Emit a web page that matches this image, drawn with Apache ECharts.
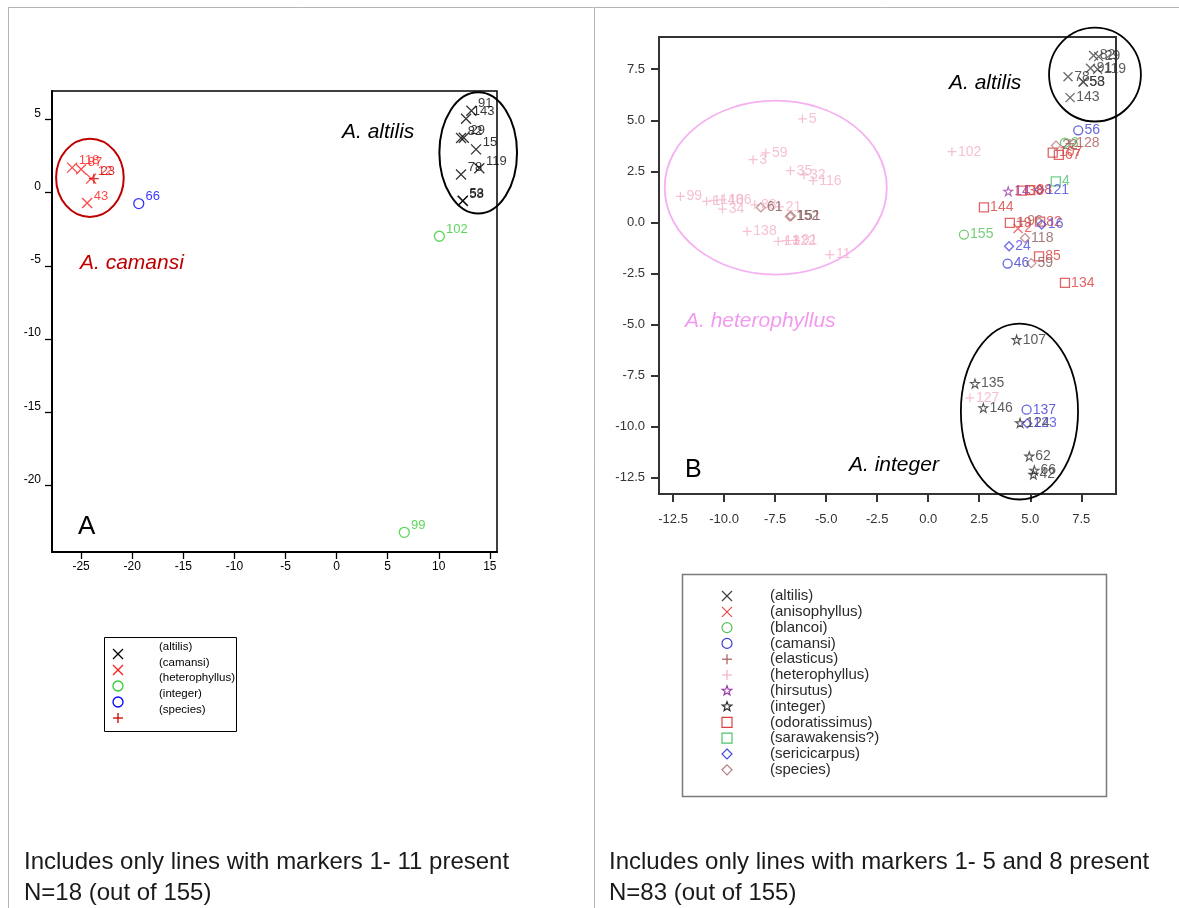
<!DOCTYPE html>
<html>
<head>
<meta charset="utf-8">
<script src="https://cdn.jsdelivr.net/npm/echarts@6/dist/echarts.min.js"></script>
<style>
  html, body { margin: 0; padding: 0; background: #fff; }
  #chart { width: 1179px; height: 908px; }
</style>
</head>
<body>
<div id="chart"></div>
<script>
// ---------- Panel A: markers 1-11 (N=18) ----------
// each point: [axis 1 score, axis 2 score, accession label]
const aAltilis = [[12.67, 5.04, '143'], [13.19, 5.58, '91'], [12.18, 3.72, '82'], [12.45, 3.74, '29'],
  [13.65, 2.95, '15'], [13.97, 1.66, '119'], [12.18, 1.23, '78'], [12.34, -0.57, '58'], [12.36, -0.55, '53']];
const aCamansi = [[-25.88, 1.70, '118'], [-25.0, 1.59, '87'], [-24.02, 0.95, '12'], [-24.41, -0.71, '43']];
const aHeterophyllus = [[10.06, -2.98, '102'], [6.63, -23.18, '99']];
const aInteger = [[-19.36, -0.75, '66']];
const aSpecies = [[-23.75, 0.95, '23']];
const aXTicks = [-25, -20, -15, -10, -5, 0, 5, 10, 15];
const aYTicks = [-20, -15, -10, -5, 0, 5];
const aLegendNames = ['(altilis)', '(camansi)', '(heterophyllus)', '(integer)', '(species)'];

// ---------- Panel B: markers 1-5 and 8 (N=83) ----------
const bAltilis = [[8.1, 8.17, '82'], [8.35, 8.12, '29'], [7.95, 7.55, '91'], [8.3, 7.5, '119'],
  [6.85, 7.13, '78'], [7.59, 6.89, '58'], [7.6, 6.87, '53'], [6.95, 6.11, '143']];
const bAnisophyllus = [[4.4, -0.3, '2']];
const bBlancoi = [[1.75, -0.6, '155'], [6.7, 3.9, '3']];
const bCamansi = [[7.35, 4.51, '56'], [3.89, -2.02, '46'], [4.82, -9.18, '137']];
const bElasticus = [[4.55, 0.05, '96'], [6.95, 3.86, '128']];
const bHeterophyllus = [[-6.16, 5.07, '5'], [-7.96, 3.40, '59'], [-8.58, 3.07, '3'], [-6.75, 2.53, '35'],
  [-6.09, 2.33, '32'], [-5.64, 2.04, '116'], [-12.14, 1.27, '99'], [-10.86, 1.03, '1'], [-10.5, 1.08, '148'],
  [-10.1, 1.1, '106'], [-10.08, 0.65, '34'], [-8.5, 0.86, '88'], [-7.28, 0.76, '21'], [-8.87, -0.44, '138'],
  [-7.35, -0.93, '13'], [-6.95, -0.9, '122'], [-6.5, -0.88, '91'], [-4.82, -1.58, '11'],
  [1.16, 3.46, '102'], [2.04, -8.6, '127']];
const bHirsutus = [[3.92, 1.52, '14']];
const bInteger = [[4.33, -5.75, '107'], [2.29, -7.9, '135'], [2.7, -9.09, '146'], [4.5, -9.83, '124'],
  [4.95, -11.46, '62'], [5.2, -12.15, '66'], [5.15, -12.35, '42']];
const bOdoratissimus = [[6.1, 3.42, '107'], [6.4, 3.3, '67'], [4.58, 1.55, '38'], [5.0, 1.58, '88'],
  [2.73, 0.73, '144'], [4.0, -0.03, '19'], [5.48, 0.03, '82'], [5.43, -1.67, '85'], [6.7, -2.97, '134']];
const bSarawakensis = [[6.25, 2.01, '4']];
const bSericicarpus = [[5.45, 1.6, '121'], [5.56, -0.11, '16'], [3.96, -1.17, '24'], [4.85, -9.85, '123']];
const bSpecies = [[6.26, 3.76, '22'], [4.74, -0.77, '118'], [5.05, -2.0, '59'], [-8.2, 0.73, '61'],
  [-6.78, 0.29, '152'], [-6.72, 0.31, '151']];
const bXTicks = [-12.5, -10, -7.5, -5, -2.5, 0, 2.5, 5, 7.5];
const bYTicks = [-12.5, -10, -7.5, -5, -2.5, 0, 2.5, 5, 7.5];
const bLegendNames = ['(altilis)', '(anisophyllus)', '(blancoi)', '(camansi)', '(elasticus)', '(heterophyllus)',
  '(hirsutus)', '(integer)', '(odoratissimus)', '(sarawakensis?)', '(sericicarpus)', '(species)'];

// group ellipses in data units: [cx, cy, rx, ry, colour]
const aEllipses = [[-24.14, 1.01, 3.31, 2.67, '#c00000'], [13.86, 2.71, 3.80, 4.14, '#000000']];
const bEllipses = [[8.17, 7.24, 2.25, 2.30, '#000000'], [4.47, -9.27, 2.87, 4.31, '#000000'],
  [-7.47, 1.70, 5.44, 4.26, '#f5b0f2']];

const NARROW = "'Liberation Sans Narrow', 'Arial Narrow', 'Liberation Sans', Arial, sans-serif";
const SANS = "'Liberation Sans', Arial, Helvetica, sans-serif";

const SYMBOLS = {
  cross: 'path://M0,0L10,10M0,10L10,0',
  plus: 'path://M5,0L5,10M0,5L10,5',
  star: 'path://M5,0L6.18,3.62L10,3.62L6.91,5.88L8.09,9.51L5,7.27L1.91,9.51L3.09,5.88L0,3.62L3.82,3.62Z',
  circle: 'circle',
  rect: 'rect',
  diamond: 'diamond'
};

// panel A series styles: [data, kind, colour]
const aStyles = [
  [aAltilis, 'cross', '#000000'],
  [aCamansi, 'cross', '#ff1a1a'],
  [aHeterophyllus, 'circle', '#33cc33'],
  [aInteger, 'circle', '#0000ff'],
  [aSpecies, 'plus', '#d00000']
];
// panel B series styles: [data, kind, marker colour, label colour]
const bStyles = [
  [bAltilis, 'cross', '#444444', '#333333'],
  [bAnisophyllus, 'cross', '#e8474c', '#e8474c'],
  [bBlancoi, 'circle', '#55c055', '#55c055'],
  [bCamansi, 'circle', '#3b3bd0', '#3b3bd0'],
  [bElasticus, 'plus', '#a85a5a', '#a85a5a'],
  [bHeterophyllus, 'plus', '#f3b2c4', '#f3b2c4'],
  [bHirsutus, 'star', '#9b3aa8', '#9b3aa8'],
  [bInteger, 'star', '#2a2a2a', '#333333'],
  [bOdoratissimus, 'rect', '#d9403f', '#d9403f'],
  [bSarawakensis, 'rect', '#4fc36b', '#4fc36b'],
  [bSericicarpus, 'diamond', '#4848e0', '#4848e0'],
  [bSpecies, 'diamond', '#b77c7c', '#8a5a5a']
];

function scatter(name, gridIndex, data, kind, color, labelColor, size, font, fontSize, offset) {
  return {
    name: name,
    type: 'scatter',
    xAxisIndex: gridIndex,
    yAxisIndex: gridIndex,
    data: data,
    symbol: SYMBOLS[kind],
    symbolSize: size,
    silent: true,
    itemStyle: { color: 'rgba(0,0,0,0)', borderColor: color, borderWidth: kind === 'star' ? 1.1 : 1.3 },
    label: {
      show: true,
      position: 'right',
      distance: 1,
      offset: offset,
      formatter: p => p.value[2],
      color: labelColor,
      fontFamily: font,
      fontSize: fontSize
    },
    emphasis: { disabled: true }
  };
}

const series = [];
aStyles.forEach((s, i) => series.push(
  scatter(aLegendNames[i], 0, s[0], s[1], s[2], s[2], 10, NARROW, 13, [0, -7])));
bStyles.forEach((s, i) => series.push(
  scatter(bLegendNames[i], 1, s[0], s[1], s[2], s[3], 9, SANS, 14, [0, 0])));

const axisA = { color: '#000', width: 2 };
const axisB = { color: '#333', width: 2 };

const chart = echarts.init(document.getElementById('chart'), null, { renderer: 'canvas' });

chart.setOption({
  animation: false,
  backgroundColor: '#fff',
  grid: [
    { left: 52, top: 91, width: 445, height: 461, show: true, borderColor: '#000', borderWidth: 1.5, backgroundColor: 'transparent' },
    { left: 659, top: 37, width: 457, height: 457, show: true, borderColor: '#333', borderWidth: 2, backgroundColor: 'transparent' }
  ],
  xAxis: [
    {
      gridIndex: 0, type: 'value', min: -27.85, max: 15.7,
      splitLine: { show: false },
      axisLine: { onZero: false, lineStyle: axisA },
      axisTick: { customValues: aXTicks, length: 7, lineStyle: { color: '#000', width: 1.3 } },
      axisLabel: { customValues: aXTicks, margin: 9, fontFamily: NARROW, fontSize: 12, color: '#000' }
    },
    {
      gridIndex: 1, type: 'value', min: -13.19, max: 9.2,
      splitLine: { show: false },
      axisLine: { onZero: false, lineStyle: axisB },
      axisTick: { customValues: bXTicks, length: 8, lineStyle: { color: '#333', width: 2 } },
      axisLabel: { customValues: bXTicks, margin: 19, formatter: v => v.toFixed(1), fontFamily: SANS, fontSize: 13, color: '#333' }
    }
  ],
  yAxis: [
    {
      gridIndex: 0, type: 'value', min: -24.52, max: 6.93,
      splitLine: { show: false },
      axisLine: { onZero: false, lineStyle: axisA },
      axisTick: { customValues: aYTicks, length: 7, lineStyle: { color: '#000', width: 1.3 } },
      axisLabel: { customValues: aYTicks, margin: 11, verticalAlign: 'bottom', fontFamily: NARROW, fontSize: 12, color: '#000' }
    },
    {
      gridIndex: 1, type: 'value', min: -13.31, max: 9.08,
      splitLine: { show: false },
      axisLine: { onZero: false, lineStyle: axisB },
      axisTick: { customValues: bYTicks, length: 8, lineStyle: { color: '#333', width: 2 } },
      axisLabel: { customValues: bYTicks, margin: 14, formatter: v => v.toFixed(1), fontFamily: SANS, fontSize: 13, color: '#333' }
    }
  ],
  series: series
});

// ----- marker shapes for the legend boxes -----
function markerEls(kind, cx, cy, s, color, lw) {
  const h = s / 2;
  const st = { fill: null, stroke: color, lineWidth: lw };
  if (kind === 'cross') {
    return [
      { type: 'line', shape: { x1: cx - h, y1: cy - h, x2: cx + h, y2: cy + h }, style: st },
      { type: 'line', shape: { x1: cx - h, y1: cy + h, x2: cx + h, y2: cy - h }, style: st }
    ];
  }
  if (kind === 'plus') {
    return [
      { type: 'line', shape: { x1: cx, y1: cy - h, x2: cx, y2: cy + h }, style: st },
      { type: 'line', shape: { x1: cx - h, y1: cy, x2: cx + h, y2: cy }, style: st }
    ];
  }
  if (kind === 'circle') return [{ type: 'circle', shape: { cx: cx, cy: cy, r: h }, style: st }];
  if (kind === 'rect') return [{ type: 'rect', shape: { x: cx - h, y: cy - h, width: s, height: s }, style: st }];
  if (kind === 'diamond') {
    return [{ type: 'polygon', shape: { points: [[cx, cy - h], [cx + h, cy], [cx, cy + h], [cx - h, cy]] }, style: st }];
  }
  // star
  const pts = [];
  for (let k = 0; k < 10; k++) {
    const r = k % 2 === 0 ? h : h * 0.42;
    const a = -Math.PI / 2 + k * Math.PI / 5;
    pts.push([cx + r * Math.cos(a), cy + r * Math.sin(a)]);
  }
  return [{ type: 'polygon', shape: { points: pts }, style: { fill: null, stroke: color, lineWidth: lw } }];
}

function ellipseEls(gridIndex, list, lw) {
  return list.map(e => {
    const c = chart.convertToPixel({ gridIndex: gridIndex }, [e[0], e[1]]);
    const px = chart.convertToPixel({ gridIndex: gridIndex }, [e[0] + e[2], e[1] + e[3]]);
    return {
      type: 'ellipse',
      shape: { cx: c[0], cy: c[1], rx: Math.abs(px[0] - c[0]), ry: Math.abs(px[1] - c[1]) },
      style: { fill: null, stroke: e[4], lineWidth: lw },
      silent: true, z: 10
    };
  });
}

function text(str, x, y, size, color, opts) {
  return {
    type: 'text', x: x, y: y, silent: true, z: 20,
    style: Object.assign({
      text: str, fill: color, fontSize: size, fontFamily: SANS,
      textAlign: 'left', textVerticalAlign: 'middle'
    }, opts || {})
  };
}

const graphics = [];

// page frame
const frame = { stroke: '#b4b4b4', lineWidth: 1 };
graphics.push({ type: 'line', shape: { x1: 8, y1: 7.5, x2: 1179, y2: 7.5 }, style: frame, silent: true });
graphics.push({ type: 'line', shape: { x1: 8.5, y1: 7, x2: 8.5, y2: 908 }, style: frame, silent: true });
graphics.push({ type: 'line', shape: { x1: 594.5, y1: 7, x2: 594.5, y2: 908 }, style: frame, silent: true });

// group outlines
ellipseEls(0, aEllipses, 2).forEach(g => graphics.push(g));
ellipseEls(1, bEllipses, 1.8).forEach(g => graphics.push(g));

// group names and panel letters
const ital = { fontStyle: 'italic' };
graphics.push(text('A. altilis', 342, 132, 21, '#000', ital));
graphics.push(text('A. camansi', 80, 263, 21, '#c00000', ital));
graphics.push(text('A', 78, 527, 26, '#000'));
graphics.push(text('A. altilis', 949, 83, 21, '#000', ital));
graphics.push(text('A. heterophyllus', 685, 321, 21, '#f29af0', ital));
graphics.push(text('A. integer', 849, 465, 21, '#000', ital));
graphics.push(text('B', 685, 470, 25, '#000'));

// legend box, panel A
graphics.push({ type: 'rect', shape: { x: 104.5, y: 637.5, width: 132, height: 94 }, style: { fill: '#fff', stroke: '#000', lineWidth: 1 }, silent: true, z: 5 });
aStyles.forEach((s, i) => {
  markerEls(s[1], 118, 654 + i * 16, 10, s[2], 1.3).forEach(m => { m.z = 21; m.silent = true; graphics.push(m); });
  graphics.push(text(aLegendNames[i], 159, 646.7 + i * 15.8, 11.5, '#000', { fontFamily: NARROW }));
});

// legend box, panel B
graphics.push({ type: 'rect', shape: { x: 682.5, y: 574.5, width: 424, height: 222 }, style: { fill: '#fff', stroke: '#7a7a7a', lineWidth: 1.5 }, silent: true, z: 5 });
bStyles.forEach((s, i) => {
  markerEls(s[1], 727, 596 + i * 15.8, 10, s[2], 1.2).forEach(m => { m.z = 21; m.silent = true; graphics.push(m); });
  graphics.push(text(bLegendNames[i], 770, 596 + i * 15.8, 15, '#2a2a2a'));
});

// captions
graphics.push(text('Includes only lines with markers 1- 11 present', 24, 862, 24, '#1a1a1a'));
graphics.push(text('N=18 (out of 155)', 24, 893, 24, '#1a1a1a'));
graphics.push(text('Includes only lines with markers 1- 5 and 8 present', 609, 862, 24, '#1a1a1a'));
graphics.push(text('N=83 (out of 155)', 609, 893, 24, '#1a1a1a'));

chart.setOption({ graphic: graphics });
</script>
</body>
</html>
